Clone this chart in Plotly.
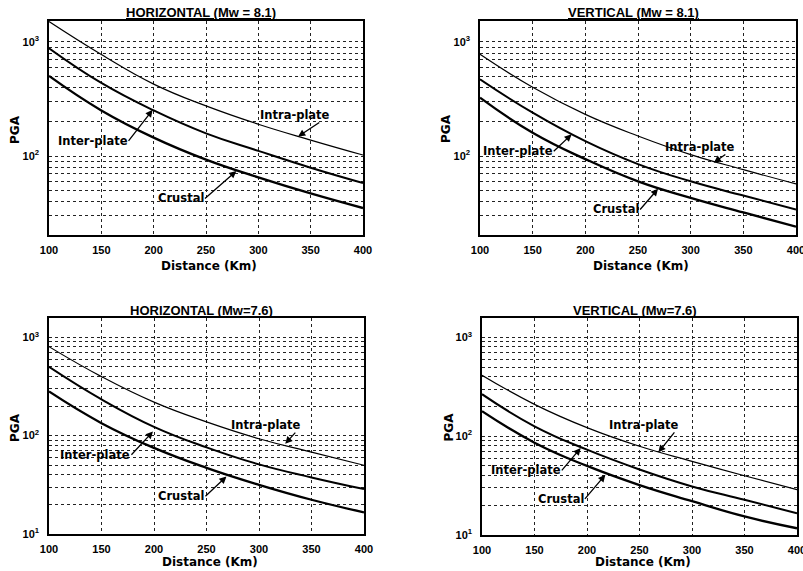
import numpy as np
import plotly.graph_objects as go

# Epicentral distance (km)
distance = [100, 150, 200, 250, 300, 350, 400]

# PGA attenuation curves, horizontal component, Mw = 8.1
h81_intra = [1510, 776, 427, 275, 190, 138, 102]
h81_inter = [881, 437, 251, 158, 111, 79, 58]
h81_crustal = [504, 251, 145, 93, 65, 47, 35]

# vertical component, Mw = 8.1
v81_intra = [780, 401, 232, 150, 103, 76, 57]
v81_inter = [471, 240, 135, 85, 60, 45, 34]
v81_crustal = [325, 160, 94, 60, 43, 32, 24]

# horizontal component, Mw = 7.6
h76_intra = [803, 398, 219, 138, 93, 68, 50]
h76_inter = [501, 234, 123, 76, 51, 37.6, 28.6]
h76_crustal = [281, 134, 75, 47, 31.6, 22.3, 16.6]

# vertical component, Mw = 7.6
v76_intra = [414, 210, 122, 79, 55.6, 39.8, 28.8]
v76_inter = [266, 126, 73, 46, 31, 22.7, 16.6]
v76_crustal = [179, 86, 50, 32, 22, 15.4, 11.7]

panel_titles = ["HORIZONTAL (Mw = 8.1)", "VERTICAL (Mw = 8.1)",
                "HORIZONTAL (Mw=7.6)", "VERTICAL (Mw=7.6)"]
series_names = ["Intra-plate", "Inter-plate", "Crustal"]
x_ticks = [100, 150, 200, 250, 300, 350, 400]

W, H = 803, 571

# panel frames in pixels: left, right, top, bottom, y-range (log10), axis-title offset
frames = [
    (49, 363, 21, 235, (np.log10(20.3), 3.184), 31),
    (480, 796, 21, 235, (np.log10(20.3), 3.184), 31),
    (49, 364, 318, 534, (1.0, 3.196), 28),
    (482, 797, 318, 535, (1.0, 3.196), 27),
]

panel_data = [
    (h81_intra, h81_inter, h81_crustal),
    (v81_intra, v81_inter, v81_crustal),
    (h76_intra, h76_inter, h76_crustal),
    (v76_intra, v76_inter, v76_crustal),
]

# callouts per panel: (label anchor = arrow tail, arrow head) for each series
callouts = [
    [((369, 229), (338, 148)),
     ((176, 136), (199, 254)),
     ((249, 42.5), (279, 74))],
    [((343, 120), (322, 87.5)),
     ((170, 110), (187, 155)),
     ((252, 34), (269, 51.6))],
    [((341, 128), (325, 82.6)),
     ((178.5, 64), (199, 110)),
     ((249, 24.2), (269, 38.5))],
    [((289, 130), (268, 68.7)),
     ((176, 45), (194, 76)),
     ((198, 23.2), (217.5, 40.7))],
]

line_widths = [1.2, 2.0, 2.3]

grid_vals = sorted(set([v * m for m in (10, 100) for v in range(2, 10)] + [10, 100, 1000]))


def ylabel(v):
    if v in (10, 100, 1000):
        return "10<sup>%d</sup>" % int(round(np.log10(v)))
    return ""


fig = go.Figure()
annotations = []
layout_axes = {}

tick_font = dict(family="Liberation Sans", size=11, color="black", weight="bold")
lab_font = dict(family="DejaVu Sans", size=11.5, color="black", weight="bold")
axis_title_font = dict(family="DejaVu Sans", size=12, color="black", weight="bold")
title_font = dict(family="Liberation Sans", size=13, color="black", weight="bold")

for i, ((l, r, t, b, yr, toff), series, calls) in enumerate(zip(frames, panel_data, callouts)):
    k = "" if i == 0 else str(i + 1)
    xname, yname = "x" + k, "y" + k
    for s, vals, lw in zip(series_names, series, line_widths):
        fig.add_trace(go.Scatter(
            x=distance, y=vals, mode="lines", name=s, showlegend=False,
            line=dict(color="black", width=lw, shape="spline", smoothing=1.3),
            xaxis=xname, yaxis=yname))

    layout_axes["xaxis" + k] = dict(
        domain=[l / W, r / W], anchor=yname, range=[100, 400],
        tickmode="array", tickvals=x_ticks, ticktext=[str(v) for v in x_ticks],
        tickfont=tick_font, ticks="", showgrid=True, gridcolor="#222",
        griddash="3px,3px", gridwidth=1, showline=True, linecolor="black",
        linewidth=1.5, mirror=True, zeroline=False, automargin=False,
        ticklabelstandoff=4, ticklabeloverflow="allow")
    layout_axes["yaxis" + k] = dict(
        domain=[1 - b / H, 1 - t / H], anchor=xname, type="log", range=list(yr),
        tickmode="array", tickvals=grid_vals, ticktext=[ylabel(v) for v in grid_vals],
        tickfont=tick_font, ticks="", showgrid=True, gridcolor="#222",
        griddash="3px,3px", gridwidth=1, showline=True, linecolor="black",
        linewidth=1.5, mirror=True, zeroline=False, automargin=False,
        ticklabelstandoff=6)

    # series label sits left of the arrow tail, arrow points to its curve
    for s, (tail, head) in zip(series_names, calls):
        annotations.append(dict(
            x=head[0], y=np.log10(head[1]), xref=xname, yref=yname, text=s,
            showarrow=True, ax=tail[0], ay=np.log10(tail[1]), axref=xname,
            ayref=yname, xanchor="right", yanchor="middle", font=lab_font,
            arrowhead=2, arrowsize=1.1, arrowwidth=1.3, arrowcolor="black",
            standoff=0, startstandoff=0, borderpad=0))

    cx = (l + r) / 2
    annotations.append(dict(
        x=(cx - 5) / W, y=1 - (t - 8) / H, xref="paper", yref="paper",
        text="<u>" + panel_titles[i] + "</u>", showarrow=False, font=title_font,
        xanchor="center", yanchor="middle"))
    annotations.append(dict(
        x=(cx + 3) / W, y=1 - (b + toff) / H, xref="paper", yref="paper",
        text="Distance (Km)", showarrow=False, font=axis_title_font,
        xanchor="center", yanchor="middle"))
    annotations.append(dict(
        x=(l - 34) / W, y=1 - ((t + b) / 2 + 1) / H, xref="paper", yref="paper",
        text="PGA", textangle=-90, showarrow=False, font=axis_title_font,
        xanchor="center", yanchor="middle"))

fig.update_layout(
    width=W, height=H, margin=dict(l=0, r=0, t=0, b=0),
    paper_bgcolor="white", plot_bgcolor="white",
    annotations=annotations, showlegend=False, **layout_axes)

fig.write_html("out.html")
